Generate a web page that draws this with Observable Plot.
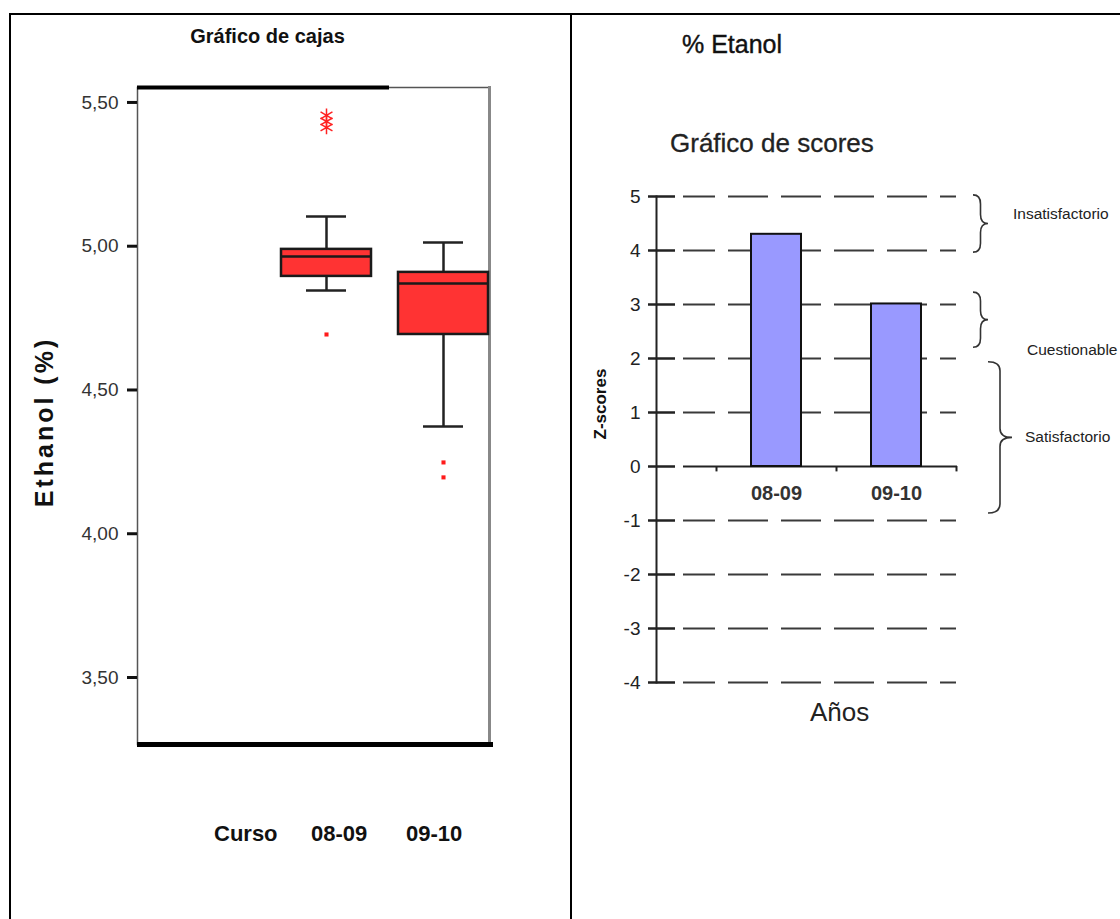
<!DOCTYPE html>
<html><head><meta charset="utf-8">
<script src="https://cdn.jsdelivr.net/npm/d3@7"></script>
<script src="https://cdn.jsdelivr.net/npm/@observablehq/plot@0.6"></script>
<style>
html,body{margin:0;padding:0;background:#fff;}
body{width:1120px;height:919px;overflow:hidden;position:relative;font-family:"Liberation Sans",Arial,sans-serif;color:#111;}
.abs{position:absolute;white-space:nowrap;line-height:1;}
.line{position:absolute;background:#000;}
</style></head><body>
<div class="line" style="left:9px;top:13px;width:1111px;height:2px"></div>
<div class="line" style="left:9px;top:13px;width:2px;height:906px"></div>
<div class="line" style="left:570px;top:13px;width:2px;height:906px"></div>

<div class="abs" style="left:0;width:535px;top:26px;text-align:center;font-weight:bold;font-size:20px">Gráfico de cajas</div>
<div class="abs" style="left:44px;top:422px;transform:translate(-50%,-50%) rotate(-90deg);font-weight:bold;font-size:25px;letter-spacing:3px">Ethanol (%)</div>
<div class="abs" style="left:214px;top:823px;font-weight:bold;font-size:22px">Curso</div>
<div class="abs" style="left:311px;top:823px;font-weight:bold;font-size:22px">08-09</div>
<div class="abs" style="left:406px;top:823px;font-weight:bold;font-size:22px">09-10</div>

<div class="abs" style="left:682px;top:32px;font-size:25px;-webkit-text-stroke:0.4px #111">% Etanol</div>
<div class="abs" style="left:670px;top:130px;font-size:26px;color:#222;-webkit-text-stroke:0.3px #222">Gráfico de scores</div>

<div id="left" class="abs" style="left:14px;top:60px;width:540px;height:720px"></div>
<div id="right" class="abs" style="left:580px;top:170px;width:540px;height:590px"></div>

<script>
// ---- Left chart data (box plot of Ethanol %) ----
const cursos = ["08-09", "09-10"];
const q1 = [4.895, 4.693];
const median = [4.964, 4.870];
const q3 = [4.989, 4.909];
const whiskerLo = [4.846, 4.373];
const whiskerHi = [5.103, 5.013];
const outlierCurso = ["08-09", "09-10", "09-10"];
const outlierValue = [4.693, 4.248, 4.196];
const extremeCurso = ["08-09", "08-09", "08-09"];
const extremeValue = [5.455, 5.434, 5.413];
const ethanolTicks = [3.5, 4, 4.5, 5, 5.5];
const ethanolDomain = [3.267, 5.552];

// ---- Right chart data (z-scores) ----
const scoreCursos = ["08-09", "09-10"];
const zScores = [4.30, 3.01];
const zTicks = [-4, -3, -2, -1, 0, 1, 2, 3, 4, 5];
const zDomain = [-4, 5];
const zoneLabels = ["Insatisfactorio", "Cuestionable", "Satisfactorio"];
const zoneTop = [5.02, 3.22, 1.93];
const zoneBottom = [3.96, 2.20, -0.87];
const zoneLabelY = [4.68, 2.15, 0.54];

const font = '"Liberation Sans", Arial, sans-serif';

const boxes = cursos.map((c, i) => ({curso: c, q1: q1[i], median: median[i], q3: q3[i], lo: whiskerLo[i], hi: whiskerHi[i]}));
const outliers = outlierCurso.map((c, i) => ({curso: c, value: outlierValue[i]}));
const extremes = extremeCurso.map((c, i) => ({curso: c, value: extremeValue[i]}));
const fmt = d => d.toFixed(2).replace(".", ",");

const leftPlot = Plot.plot({
  width: 540, height: 720,
  marginLeft: 123, marginRight: 65, marginTop: 27, marginBottom: 36,
  style: {fontFamily: font, background: "transparent", color: "#333"},
  x: {type: "band", domain: cursos, range: [239.3, 502.4], padding: 0.23, axis: null},
  y: {domain: ethanolDomain, axis: null},
  marks: [
    Plot.frame({stroke: "#555", strokeWidth: 1.5}),
    Plot.frame({anchor: "right", stroke: "#888", strokeWidth: 3}),
    Plot.ruleY([ethanolDomain[1]], {stroke: "#000", strokeWidth: 4, insetRight: 100}),
    Plot.ruleY([ethanolDomain[0]], {stroke: "#000", strokeWidth: 5, insetRight: -4}),
    Plot.axisY(ethanolTicks, {tickFormat: fmt, tickSize: 10, tickPadding: 9, strokeWidth: 3, stroke: "#111", fontSize: 19, label: null}),
    Plot.ruleX(boxes, {x: "curso", y1: "q3", y2: "hi", stroke: "#222", strokeWidth: 2.5}),
    Plot.ruleX(boxes, {x: "curso", y1: "lo", y2: "q1", stroke: "#222", strokeWidth: 2.5}),
    Plot.tickY(boxes, {x: "curso", y: "hi", inset: 25, stroke: "#222", strokeWidth: 2.5}),
    Plot.tickY(boxes, {x: "curso", y: "lo", inset: 25, stroke: "#222", strokeWidth: 2.5}),
    Plot.barY(boxes, {x: "curso", y1: "q1", y2: "q3", fill: "#ff3333", stroke: "#1a1a1a", strokeWidth: 2.5}),
    Plot.tickY(boxes, {x: "curso", y: "median", stroke: "#1a1a1a", strokeWidth: 2.5}),
    Plot.dot(outliers, {x: "curso", y: "value", symbol: "square", fill: "#ff1a1a", r: 2.3}),
    Plot.dot(extremes, {x: "curso", y: "value", symbol: "asterisk", stroke: "#ff2222", r: 6.5, strokeWidth: 1.5})
  ]
});
document.getElementById("left").append(leftPlot);

const scores = scoreCursos.map((c, i) => ({curso: c, z: zScores[i]}));
const zones = zoneLabels.map((l, i) => ({label: l, top: zoneTop[i], bottom: zoneBottom[i], labelY: zoneLabelY[i]}));

function braces(index, scales, values, dimensions) {
  const g = d3.create("svg:g");
  const xr = dimensions.width - dimensions.marginRight;
  const bx = [17, 17, 32], bw = [15, 15, 24], lx = [57, 71, 69];
  zones.forEach((z, i) => {
    const yt = scales.y(z.top), yb = scales.y(z.bottom), ym = (yt + yb) / 2;
    const x0 = xr + bx[i], xm = x0 + bw[i] / 2, xt = x0 + bw[i];
    const q = Math.min(9, (yb - yt) / 4);
    g.append("path")
      .attr("fill", "none").attr("stroke", "#333").attr("stroke-width", 1.6)
      .attr("d", `M${x0},${yt} Q${xm},${yt} ${xm},${yt + q} L${xm},${ym - q} Q${xm},${ym} ${xt},${ym} Q${xm},${ym} ${xm},${ym + q} L${xm},${yb - q} Q${xm},${yb} ${x0},${yb}`);
    g.append("text")
      .attr("x", xr + lx[i]).attr("y", scales.y(z.labelY)).attr("dy", "0.35em")
      .attr("text-anchor", "start")
      .attr("font-size", 15.5).attr("fill", "#222").attr("font-family", font)
      .text(z.label);
  });
  return g.node();
}

const rightPlot = Plot.plot({
  width: 540, height: 590,
  marginLeft: 76, marginRight: 164, marginTop: 26, marginBottom: 78,
  style: {fontFamily: font, background: "transparent", color: "#222", overflow: "visible"},
  x: {type: "band", domain: scoreCursos, range: [136, 376], paddingInner: 0.583, paddingOuter: 0.2915, axis: null},
  y: {domain: zDomain, axis: null},
  marks: [
    Plot.ruleY(zTicks.filter(d => d !== 0), {insetLeft: 27, stroke: "#3a3a3a", strokeWidth: 2, strokeDasharray: "40,13", strokeDashoffset: 8}),
    Plot.ruleY([0], {insetLeft: 27, insetRight: -1, stroke: "#222", strokeWidth: 2}),
    Plot.ruleX(scores, {x: "curso", y1: 0, y2: -0.1, dx: 60, stroke: "#222", strokeWidth: 2}),
    Plot.ruleX(scores.slice(0, 1), {x: "curso", y1: 0, y2: -0.1, dx: -60, stroke: "#222", strokeWidth: 2}),
    Plot.barY(scores, {x: "curso", y: "z", fill: "#9999ff", stroke: "#111", strokeWidth: 2}),
    Plot.frame({anchor: "left", stroke: "#222", strokeWidth: 2}),
    Plot.axisY(zTicks, {tickFormat: d => String(d), tickSize: 8, tickPadding: 8, strokeWidth: 2.5, stroke: "#222", fontSize: 19, label: null}),
    Plot.ruleY(zTicks, {insetRight: 281, stroke: "#222", strokeWidth: 2.5}),
    Plot.text(scores, {x: "curso", y: 0, dy: 27, text: "curso", fontWeight: "bold", fontSize: 20, fill: "#333"}),
    Plot.text(["Z-scores"], {frameAnchor: "left", dx: -56, rotate: -90, fontWeight: "bold", fontSize: 17, fill: "#111"}),
    Plot.text(["Años"], {frameAnchor: "bottom", dx: 33, dy: 38, fontSize: 26, fill: "#222"}),
    braces
  ]
});
document.getElementById("right").append(rightPlot);
</script>
</body></html>
